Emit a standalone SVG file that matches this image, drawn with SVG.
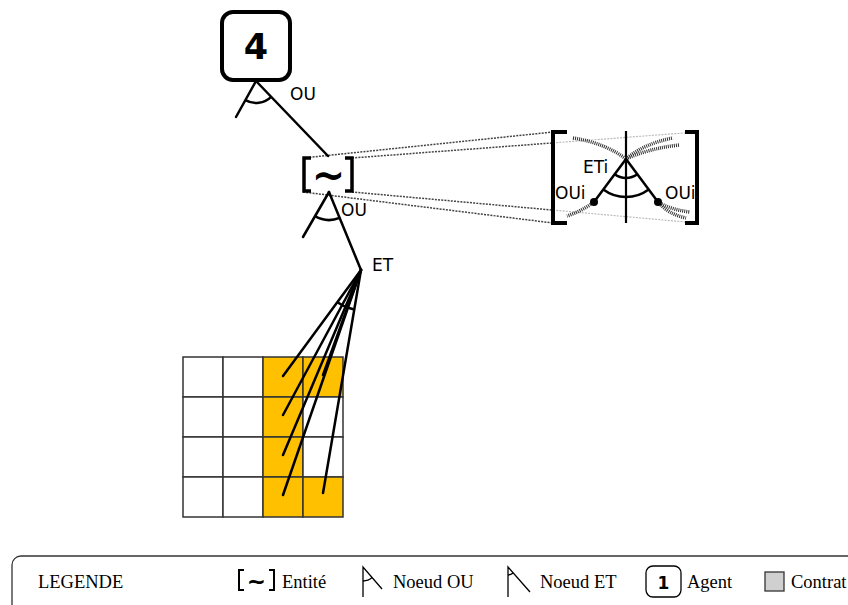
<svg xmlns="http://www.w3.org/2000/svg" width="848" height="605" viewBox="0 0 848 605">
  <style>
    .line { stroke: #000; stroke-width: 2.5; fill: none; stroke-linecap: round; }
    .arc { stroke: #000; stroke-width: 2.5; fill: none; }
    .lbl { font-family: "DejaVu Sans", Verdana, sans-serif; font-size: 17px; fill: #000; }
    .leg { font-family: "Liberation Serif", "Times New Roman", serif; font-size: 18.5px; fill: #000; }
    .proj { stroke: #444; stroke-width: 1.5; stroke-dasharray: 2 1.2; fill: none; }
    .proj-in { stroke: #bbb; stroke-width: 1.2; stroke-dasharray: 2 1.2; fill: none; }
    .hatch { stroke: #333; stroke-width: 3.5; stroke-dasharray: 1 1; fill: none; }
    .cell { stroke: #333; stroke-width: 1.5; }
    .bracket { stroke: #000; fill: none; stroke-linecap: butt; stroke-linejoin: miter; }
  </style>

  <!-- projection lines from the entity to its enlarged view -->
  <g id="projection">
    <line class="proj" x1="303" y1="158" x2="553" y2="132"/>
    <line class="proj" x1="352" y1="158" x2="553" y2="142.9"/>
    <line class="proj-in" x1="553" y1="142.9" x2="697" y2="132"/>
    <line class="proj" x1="303" y1="192" x2="553" y2="223"/>
    <line class="proj" x1="352" y1="192" x2="553" y2="210.1"/>
    <line class="proj-in" x1="553" y1="210.1" x2="697" y2="223"/>
  </g>

  <!-- grid of contract cells -->
  <g id="grid">
    <rect class="cell" x="183" y="357" width="40" height="40" fill="#fff"/>
    <rect class="cell" x="223" y="357" width="40" height="40" fill="#fff"/>
    <rect class="cell" x="263" y="357" width="40" height="40" fill="#FFC000"/>
    <rect class="cell" x="303" y="357" width="40" height="40" fill="#FFC000"/>
    <rect class="cell" x="183" y="397" width="40" height="40" fill="#fff"/>
    <rect class="cell" x="223" y="397" width="40" height="40" fill="#fff"/>
    <rect class="cell" x="263" y="397" width="40" height="40" fill="#FFC000"/>
    <rect class="cell" x="303" y="397" width="40" height="40" fill="#fff"/>
    <rect class="cell" x="183" y="437" width="40" height="40" fill="#fff"/>
    <rect class="cell" x="223" y="437" width="40" height="40" fill="#fff"/>
    <rect class="cell" x="263" y="437" width="40" height="40" fill="#FFC000"/>
    <rect class="cell" x="303" y="437" width="40" height="40" fill="#fff"/>
    <rect class="cell" x="183" y="477" width="40" height="40" fill="#fff"/>
    <rect class="cell" x="223" y="477" width="40" height="40" fill="#fff"/>
    <rect class="cell" x="263" y="477" width="40" height="40" fill="#FFC000"/>
    <rect class="cell" x="303" y="477" width="40" height="40" fill="#FFC000"/>
  </g>

  <!-- agent 4 -->
  <g id="agent4">
    <rect x="222" y="12" width="68" height="68" rx="11" fill="#fff" stroke="#000" stroke-width="4"/>
    <text x="256" y="59" text-anchor="middle" font-family="DejaVu Sans, sans-serif" font-weight="bold" font-size="35">4</text>
  </g>

  <!-- entity [~] -->
  <g id="entity">
    <path class="bracket" stroke-width="3.5" d="M311 158 H304 V191 H311"/>
    <path class="bracket" stroke-width="3.5" d="M345 158 H352 V191 H345"/>
    <text x="328.5" y="189" text-anchor="middle" font-family="DejaVu Sans, sans-serif" font-weight="bold" font-size="40">~</text>
  </g>

  <!-- connectors -->
  <g id="connectors">
    <!-- OU node under agent 4 -->
    <line class="line" x1="256" y1="81" x2="236" y2="117"/>
    <line class="line" x1="256" y1="81" x2="328" y2="156"/>
    <path class="arc" d="M245.3 100.2 A22 22 0 0 0 271.2 96.9"/>
    <!-- OU node under the entity -->
    <line class="line" x1="329" y1="192" x2="303" y2="237"/>
    <line class="line" x1="329" y1="192" x2="361" y2="270"/>
    <path class="arc" d="M315 216.2 A28 28 0 0 0 339.6 217.9"/>
    <!-- ET node fanning to the cells -->
    <line class="line" x1="361" y1="270" x2="283" y2="376"/>
    <line class="line" x1="361" y1="270" x2="283" y2="415"/>
    <line class="line" x1="361" y1="270" x2="283" y2="455"/>
    <line class="line" x1="361" y1="270" x2="283" y2="495"/>
    <line class="line" x1="361" y1="270" x2="323" y2="375"/>
    <line class="line" x1="361" y1="270" x2="323" y2="493"/>
    <path class="arc" stroke-width="2" d="M337.6 302.3 A40 40 0 0 0 354.4 309.4"/>
  </g>

  <text class="lbl" x="290" y="100">OU</text>
  <text class="lbl" x="341" y="216">OU</text>
  <text class="lbl" x="372" y="271">ET</text>

  <!-- enlarged view of the entity -->
  <g id="entity-detail">
    <path class="bracket" stroke-width="4" d="M567 132 H553 V223 H567"/>
    <path class="bracket" stroke-width="4" d="M685 132 H697 V223 H685"/>
    <line x1="626" y1="131" x2="626" y2="223" stroke="#000" stroke-width="2.2"/>
    <path class="hatch" d="M573 138 Q605 143 626 159"/>
    <path class="hatch" d="M626 159 Q645 143 673 138"/>
    <path class="hatch" d="M626 159 Q650 148 680 145"/>
    <path class="hatch" d="M594 202 Q582 211 567 216"/>
    <path class="hatch" d="M658 202 Q672 210 690 212"/>
    <path class="hatch" d="M658 202 Q668 214 686 218"/>
    <line class="line" x1="626" y1="159" x2="594" y2="202"/>
    <line class="line" x1="626" y1="159" x2="658" y2="202"/>
    <path class="arc" d="M614.7 174.2 A19 19 0 0 0 637.3 174.2"/>
    <path class="arc" d="M603.3 189.5 A38 38 0 0 0 648.7 189.5"/>
    <circle cx="594" cy="202" r="4" fill="#000"/>
    <circle cx="658" cy="202" r="4" fill="#000"/>
    <text class="lbl" x="583" y="173">ETi</text>
    <text class="lbl" x="555" y="199">OUi</text>
    <text class="lbl" x="665" y="199">OUi</text>
  </g>

  <!-- legend -->
  <g id="legend">
    <rect x="12" y="556" width="860" height="70" rx="9" fill="#fff" stroke="#333" stroke-width="1.3"/>
    <text class="leg" x="38" y="588">LEGENDE</text>

    <path class="bracket" stroke-width="2" d="M244 570 H239 V590 H244"/>
    <path class="bracket" stroke-width="2" d="M269 570 H274 V590 H269"/>
    <text x="256.5" y="589" text-anchor="middle" font-family="DejaVu Sans, sans-serif" font-weight="bold" font-size="23">~</text>
    <text class="leg" x="282" y="588">Entité</text>

    <path d="M363 597 V567 L382 589" stroke="#000" stroke-width="1.3" fill="none"/>
    <path d="M363 581 A14 14 0 0 0 372.2 577.6" stroke="#000" stroke-width="1.3" fill="none"/>
    <text class="leg" x="393" y="588">Noeud OU</text>

    <path d="M508 597 V567 L530 592" stroke="#000" stroke-width="1.3" fill="none"/>
    <path d="M508 575 A8 8 0 0 0 513.2 573" stroke="#000" stroke-width="1.3" fill="none"/>
    <text class="leg" x="540" y="588">Noeud ET</text>

    <rect x="646" y="566" width="35" height="31" rx="7" fill="#fff" stroke="#000" stroke-width="1.3"/>
    <text x="663.5" y="589" text-anchor="middle" font-family="DejaVu Sans, sans-serif" font-weight="bold" font-size="17">1</text>
    <text class="leg" x="687" y="588">Agent</text>

    <rect x="765" y="572" width="19" height="19" fill="#d0d0d0" stroke="#333" stroke-width="1.3"/>
    <text class="leg" x="791" y="588">Contrat</text>
  </g>
</svg>
